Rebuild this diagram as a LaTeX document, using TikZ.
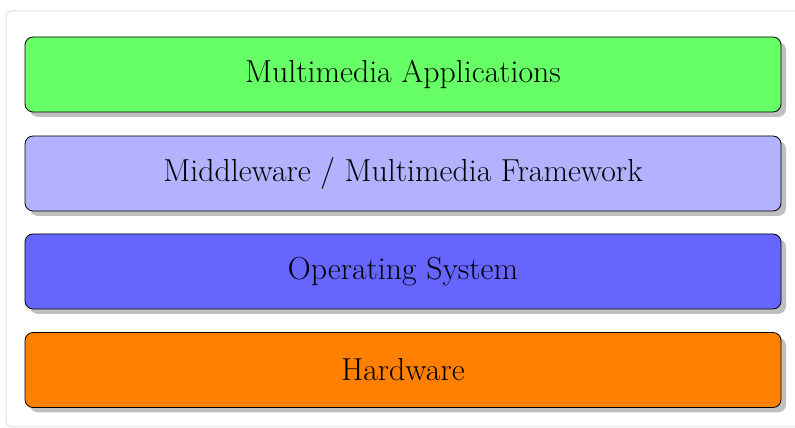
\documentclass[tikz,border=0pt]{standalone}
\usetikzlibrary{shadows}
\begin{document}
\begin{tikzpicture}[x=1pt,y=1pt,
  layer/.style={draw=black, line width=0.8pt, rounded corners=8pt,
    minimum width=756pt, minimum height=75pt, inner sep=0pt,
    drop shadow={shadow xshift=5pt, shadow yshift=-5pt},
    font=\fontsize{31.8}{38}\selectfont},
  frame/.style={draw=black!12, line width=1pt, rounded corners=6pt}]
\useasboundingbox (0,0) rectangle (795,428);
\draw[frame] (6,1) rectangle (805,417);
\node[layer, fill=green!60] (apps) at (403,353.5) {Multimedia Applications};
\node[layer, fill=blue!30] (mw) at (403,254.5) {Middleware / Multimedia Framework};
\node[layer, fill=blue!60] (os) at (403,156.5) {Operating System};
\node[layer, fill=orange] (hw) at (403,58) {Hardware};
\end{tikzpicture}
\end{document}
